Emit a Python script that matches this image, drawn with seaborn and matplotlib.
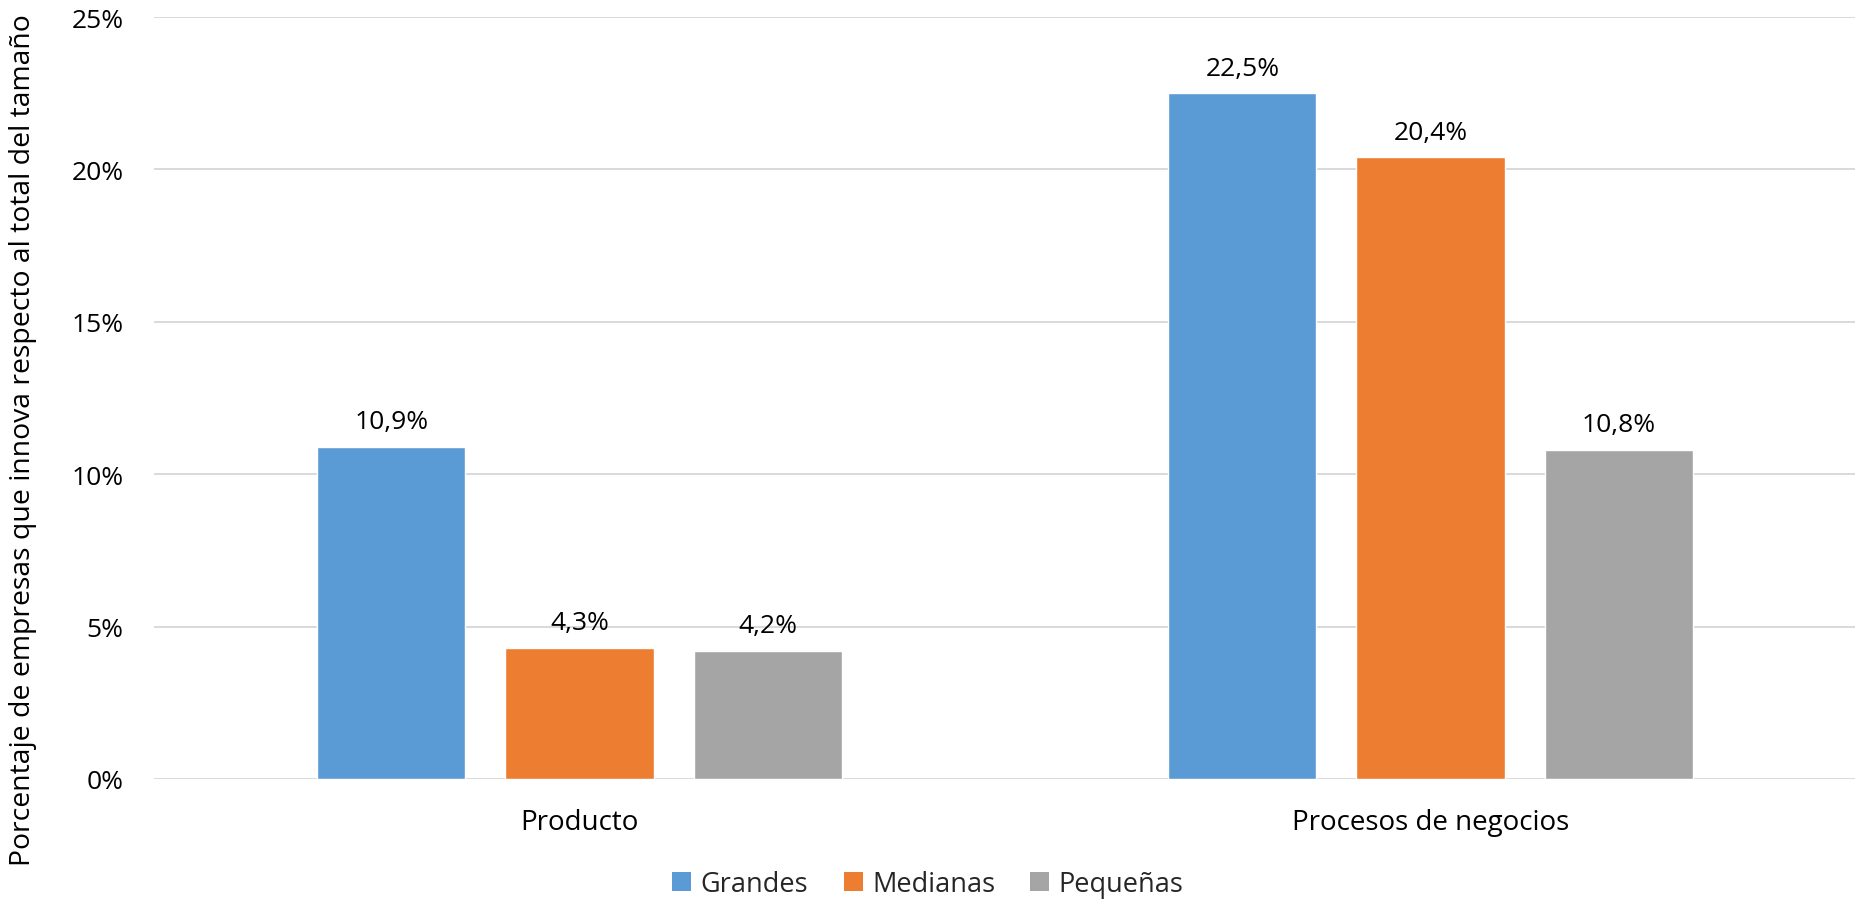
import matplotlib
matplotlib.use("Agg")
import matplotlib.pyplot as plt
from matplotlib.patches import Patch
from matplotlib.ticker import FuncFormatter
import seaborn as sns
import pandas as pd

# Data
categorias = ["Producto", "Procesos de negocios"]
tamanos = ["Grandes", "Medianas", "Pequeñas"]
grandes = [10.9, 22.5]
medianas = [4.3, 20.4]
pequenas = [4.2, 10.8]
colores = ["#5B9BD5", "#ED7D31", "#A5A5A5"]
y_ticks = [0, 5, 10, 15, 20, 25]
y_label = "Porcentaje de empresas que innova respecto al total del tamaño"

df = pd.DataFrame({
    "categoria": categorias * 3,
    "tamano": [t for t in tamanos for _ in categorias],
    "valor": grandes + medianas + pequenas,
})

sns.set_theme(style="white")
plt.rcParams["font.family"] = ["Open Sans", "DejaVu Sans"]

fig = plt.figure(figsize=(18.56, 9.04), dpi=100)
ax = fig.add_axes([154 / 1856, 124 / 904, 1702 / 1856, 762 / 904])

sns.barplot(
    data=df, x="categoria", y="valor", hue="tamano",
    order=categorias, hue_order=tamanos, palette=colores,
    width=0.663, gap=0.213, saturation=1, errorbar=None,
    legend=False, ax=ax, zorder=3,
)

def fmt_pct(v):
    return f"{v:.1f}".replace(".", ",") + "%"

for cont in ax.containers:
    ax.bar_label(cont, labels=[fmt_pct(b.get_height()) for b in cont],
                 padding=9, fontsize=19, color="#000000")

ax.set_xlim(-0.5, 1.5)
ax.set_ylim(0, 25)
ax.set_yticks(y_ticks)
ax.yaxis.set_major_formatter(FuncFormatter(lambda v, p: f"{v:.0f}%"))
ax.grid(axis="y", color="#D9D9D9", linewidth=1.4, zorder=0)
ax.set_axisbelow(True)
for s in ax.spines.values():
    s.set_visible(False)

ax.tick_params(axis="y", length=0, pad=22, labelsize=19, labelcolor="#000000")
ax.tick_params(axis="x", length=0, pad=21, labelsize=20, labelcolor="#000000")
ax.set_xlabel("")
ax.set_ylabel("")
fig.text(23 / 1856, (904 - 440) / 904, y_label, rotation=90,
         ha="center", va="center", fontsize=20.4, color="#000000")

handles = [Patch(facecolor=c, edgecolor="none") for c in colores]
fig.legend(handles, tamanos, loc="center", bbox_to_anchor=(928 / 1856, 19 / 904),
           ncol=3, frameon=False, fontsize=19.5, handlelength=0.7, handleheight=0.7,
           handletextpad=0.35, columnspacing=1.3, borderpad=0)

fig.savefig("out.png", dpi=100, facecolor="white")
